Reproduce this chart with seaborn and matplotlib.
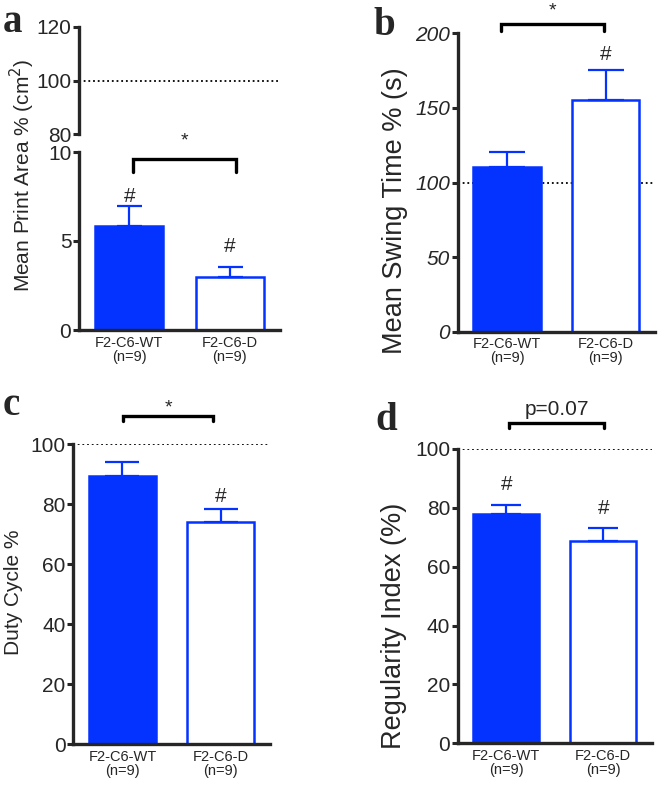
import matplotlib
matplotlib.use("Agg")
import matplotlib.pyplot as plt
import seaborn as sns

# Data
groups = ["F2-C6-WT\n(n=9)", "F2-C6-D\n(n=9)"]

print_area = [5.85, 2.99]
print_area_sem = [1.12, 0.53]

swing_time = [110.6, 155.3]
swing_time_sem = [10.0, 20.1]

duty_cycle = [89.4, 74.2]
duty_cycle_sem = [4.6, 4.1]

regularity = [77.9, 68.9]
regularity_sem = [3.2, 4.4]

blue = "#0433FF"

sns.set_style("ticks")
plt.rcParams["font.family"] = ["Liberation Sans", "DejaVu Sans"]

W, H = 660, 787
fig = plt.figure(figsize=(6.6, 7.87), dpi=100)


def box(x0, y0, x1, y1):
    # pixel box -> figure fraction
    return [x0 / W, 1 - y1 / H, (x1 - x0) / W, (y1 - y0) / H]


def style_axis(ax, ymin, ymax, ticks, italic=False, xaxis=True):
    ax.set_xlim(-0.5, 1.5)
    ax.set_ylim(ymin, ymax)
    ax.set_yticks(ticks)
    ax.set_yticklabels([str(t) for t in ticks], fontsize=15,
                       style="italic" if italic else "normal")
    for s in ["top", "right"]:
        ax.spines[s].set_visible(False)
    ax.spines["left"].set_linewidth(2.4)
    ax.spines["bottom"].set_linewidth(2.4)
    ax.tick_params(axis="y", length=4.5, width=2.2, pad=1)
    if xaxis:
        ax.set_xticks([0, 1])
        ax.set_xticklabels(groups, fontsize=10.5, linespacing=1.0)
        ax.tick_params(axis="x", length=0, pad=4)
    else:
        ax.spines["bottom"].set_visible(False)
        ax.set_xticks([])
    ax.set_xlabel("")
    ax.set_ylabel("")
    ax.patch.set_alpha(0)


def bars(ax, means, sems, cap):
    sns.barplot(x=[0, 1], y=means, ax=ax, color=blue, saturation=1,
                width=0.68, native_scale=True)
    for i, p in enumerate(ax.patches):
        p.set_edgecolor(blue)
        p.set_linewidth(1.8)
        if i == 1:
            p.set_facecolor("white")
    ax.errorbar([0, 1], means, yerr=[[0, 0], sems], fmt="none",
                ecolor=blue, elinewidth=1.6, capsize=cap, capthick=1.6,
                zorder=1)


def bracket(ax, x0, x1, y, drop, text, ty, fs=14):
    ax.plot([x0, x0, x1, x1], [y - drop, y, y, y - drop], color="black",
            lw=2.4, clip_on=False, solid_joinstyle="miter")
    ax.text((x0 + x1) / 2, ty, text, ha="center", va="center",
            fontsize=fs, clip_on=False)


def hashes(ax, xs, ys):
    for x, y in zip(xs, ys):
        ax.text(x, y, "#", ha="center", va="center", fontsize=15)


dots = dict(color="black", lw=1.3, ls=(0, (1, 1.6)), zorder=0.5)

# Panel a (broken axis)
ax_at = fig.add_axes(box(79, 27, 280, 134))
ax_at.axhline(100, **dots)
style_axis(ax_at, 80, 120, [80, 100, 120], xaxis=False)

ax_a = fig.add_axes(box(79, 152, 280, 330))
bars(ax_a, print_area, print_area_sem, 9)
style_axis(ax_a, 0, 10, [0, 5, 10])
bracket(ax_a, 0.035, 1.06, 9.6, 0.75, "*", 10.6)
hashes(ax_a, [0, 1], [7.5, 4.68])
fig.text(22 / W, 1 - 175 / H, "Mean Print Area % (cm$^2$)", rotation=90,
         ha="center", va="center", fontsize=15)

# Panel b
ax_b = fig.add_axes(box(457.7, 33.3, 655, 331.7))
ax_b.axhline(100, **dots)
bars(ax_b, swing_time, swing_time_sem, 12.8)
style_axis(ax_b, 0, 200, [0, 50, 100, 150, 200], italic=True)
bracket(ax_b, -0.06, 0.98, 206, 4.5, "*", 215)
hashes(ax_b, [1], [186])
fig.text(395 / W, 1 - 211 / H, "Mean Swing Time % (s)", rotation=90,
         ha="center", va="center", fontsize=19.5)

# Panel c
ax_c = fig.add_axes(box(73.3, 444.3, 270, 744.3))
ax_c.axhline(100, **dots)
bars(ax_c, duty_cycle, duty_cycle_sem, 12.3)
style_axis(ax_c, 0, 100, [0, 20, 40, 60, 80, 100])
bracket(ax_c, 0.01, 0.92, 109.4, 1.5, "*", 112.2)
hashes(ax_c, [1], [82.6])
fig.text(14 / W, 1 - 592 / H, "Duty Cycle %", rotation=90,
         ha="center", va="center", fontsize=15)

# Panel d
ax_d = fig.add_axes(box(457.7, 449, 651.7, 743.3))
ax_d.axhline(100, **dots)
bars(ax_d, regularity, regularity_sem, 10.8)
style_axis(ax_d, 0, 100, [0, 20, 40, 60, 80, 100])
bracket(ax_d, 0.03, 1.01, 109, 1.8, "p=0.07", 113.5, fs=15)
hashes(ax_d, [0, 1], [87.8, 79.8])
fig.text(394 / W, 1 - 626 / H, "Regularity Index (%)", rotation=90,
         ha="center", va="center", fontsize=19.5)

# Panel letters
for lx, ly, lab in [(3, 32, "a"), (373, 35, "b"), (3, 415, "c"), (375, 430, "d")]:
    fig.text(lx / W, 1 - ly / H, lab, fontsize=28, fontweight="bold",
             family="Liberation Serif", ha="left", va="baseline")

fig.savefig("out.png", dpi=100)
